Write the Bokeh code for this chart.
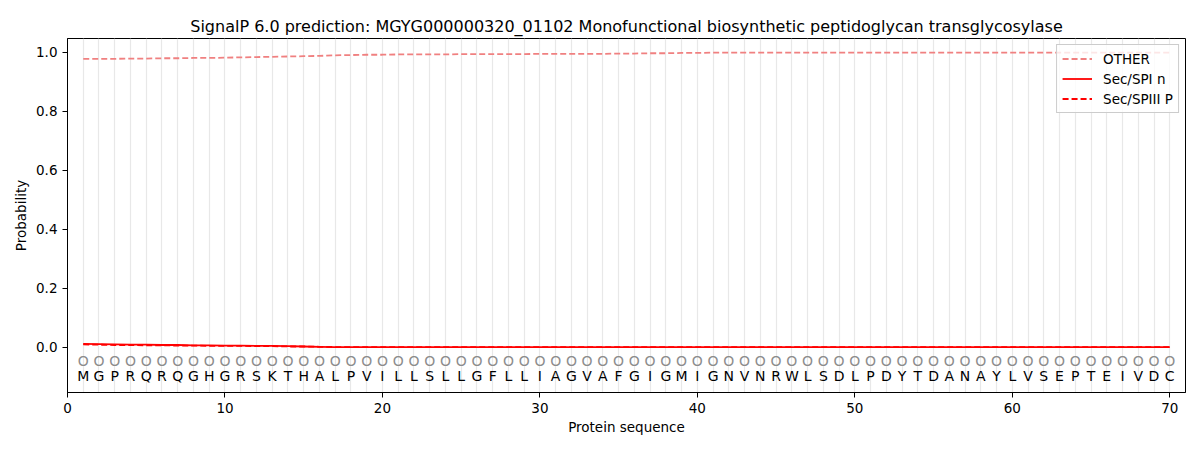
from bokeh.plotting import figure
from bokeh.models import FixedTicker, Legend, LegendItem, Range1d, ColumnDataSource
from bokeh.embed import file_html
from bokeh.resources import INLINE
from bokeh.core.properties import value

sequence = list("MGPRQRQGHGRSKTHALPVILLSLLGFLLIAGVAFGIGMIGNVNRWLSDLPDYTDANAYLVSEPTEIVDC")
positions = list(range(1, len(sequence) + 1))

other = [0.978, 0.978, 0.978, 0.979, 0.979, 0.980, 0.980, 0.981, 0.981, 0.982,
         0.983, 0.984, 0.985, 0.986, 0.987, 0.988, 0.990, 0.991, 0.992, 0.992,
         0.993, 0.993, 0.993, 0.993, 0.994, 0.994, 0.994, 0.994, 0.994, 0.995,
         0.995, 0.995, 0.995, 0.995, 0.996, 0.996, 0.997, 0.997, 0.998, 0.998,
         0.999, 0.999, 0.999, 0.999, 0.999, 0.999, 0.999, 0.999, 0.999, 0.999,
         0.999, 0.999, 0.999, 0.999, 0.999, 0.999, 0.999, 0.999, 0.999, 0.999,
         0.999, 0.999, 0.999, 0.999, 0.999, 0.999, 0.999, 0.999, 0.999, 0.999]
sec_spi_n = [0.012, 0.011, 0.010, 0.009, 0.009, 0.008, 0.008, 0.007, 0.007, 0.006,
             0.006, 0.005, 0.005, 0.004, 0.003, 0.002, 0.001, 0.001, 0.001, 0.001,
             0.001, 0.001, 0.001, 0.001, 0.001, 0.001, 0.001, 0.001, 0.001, 0.001,
             0.001, 0.001, 0.001, 0.001, 0.001, 0.001, 0.001, 0.001, 0.001, 0.001,
             0.001, 0.001, 0.001, 0.001, 0.001, 0.001, 0.001, 0.001, 0.001, 0.001,
             0.001, 0.001, 0.001, 0.001, 0.001, 0.001, 0.001, 0.001, 0.001, 0.001,
             0.001, 0.001, 0.001, 0.001, 0.001, 0.001, 0.001, 0.001, 0.001, 0.001]
sec_spiii_p = [0.010, 0.009, 0.008, 0.008, 0.007, 0.007, 0.006, 0.006, 0.005, 0.005,
               0.005, 0.004, 0.004, 0.003, 0.003, 0.002, 0.001, 0.001, 0.001, 0.001,
               0.001, 0.001, 0.001, 0.001, 0.001, 0.001, 0.001, 0.001, 0.001, 0.001,
               0.001, 0.001, 0.001, 0.001, 0.001, 0.001, 0.001, 0.001, 0.001, 0.001,
               0.001, 0.001, 0.001, 0.001, 0.001, 0.001, 0.001, 0.001, 0.001, 0.001,
               0.001, 0.001, 0.001, 0.001, 0.001, 0.001, 0.001, 0.001, 0.001, 0.001,
               0.001, 0.001, 0.001, 0.001, 0.001, 0.001, 0.001, 0.001, 0.001, 0.001]
x_ticks = [0, 10, 20, 30, 40, 50, 60, 70]
y_ticks = [0.0, 0.2, 0.4, 0.6, 0.8, 1.0]
title = "SignalP 6.0 prediction: MGYG000000320_01102 Monofunctional biosynthetic peptidoglycan transglycosylase"

FONT = "DejaVu Sans"

p = figure(output_backend="svg", toolbar_location=None,
           frame_width=1118, frame_height=354,
           min_border_left=67, min_border_right=7, min_border_top=38, min_border_bottom=50,
           x_range=Range1d(0, 71), y_range=Range1d(-0.153, 1.047),
           title=title)
p.title.text_font = FONT
p.title.text_font_size = "16px"
p.title.text_font_style = "normal"
p.title.text_color = "black"
p.title.align = "center"
p.title.standoff = 6
p.title.offset = 0

p.background_fill_color = "white"
p.outline_line_color = "black"
p.outline_line_width = 1

p.xgrid.ticker = FixedTicker(ticks=positions)
p.xgrid.grid_line_color = "#e8e8e8"
p.xgrid.grid_line_width = 1.2
p.ygrid.grid_line_color = None

for ax in (p.xaxis[0], p.yaxis[0]):
    ax.major_label_text_font = FONT
    ax.major_label_text_font_size = "13.5px"
    ax.axis_label_text_font = FONT
    ax.axis_label_text_font_size = "13.5px"
    ax.axis_label_text_font_style = "normal"
    ax.axis_label_text_color = "black"
    ax.minor_tick_line_color = None
    ax.major_tick_out = 5
    ax.major_tick_in = 0
    ax.major_tick_line_color = "black"
    ax.axis_line_color = "black"
    ax.major_label_text_color = "black"

p.xaxis.ticker = FixedTicker(ticks=x_ticks)
p.yaxis.ticker = FixedTicker(ticks=y_ticks)
p.yaxis.major_label_overrides = {v: f"{v:.1f}" for v in y_ticks}
p.xaxis.axis_label = "Protein sequence"
p.yaxis.axis_label = "Probability"
p.xaxis.axis_label_standoff = 3
p.yaxis.axis_label_standoff = 4

src = ColumnDataSource(dict(x=positions, aa=sequence, oo=["O"] * len(positions),
                            cy=[-0.047] * len(positions), ly=[-0.097] * len(positions)))
p.text("x", "cy", text="oo", source=src, text_font=value(FONT), text_font_size="14px",
       text_align="center", text_baseline="middle", text_color="#8c8c8c")
p.text("x", "ly", text="aa", source=src, text_font=value(FONT), text_font_size="14px",
       text_align="center", text_baseline="middle", text_color="black")

r_other = p.line(positions, other, line_color="#f08080", line_width=1.8, line_dash="6 3")
r_n = p.line(positions, sec_spi_n, line_color="red", line_width=1.8)
r_p = p.line(positions, sec_spiii_p, line_color="red", line_width=1.8, line_dash="6 3")

legend = Legend(items=[LegendItem(label="OTHER", renderers=[r_other]),
                       LegendItem(label="Sec/SPI n", renderers=[r_n]),
                       LegendItem(label="Sec/SPIII P", renderers=[r_p])],
                location="top_right")
legend.label_text_font = FONT
legend.label_text_font_size = "13.5px"
legend.label_text_color = "black"
legend.border_line_color = "#cccccc"
legend.border_line_alpha = 1
legend.background_fill_alpha = 0.8
legend.glyph_width = 30
legend.glyph_height = 17
legend.label_height = 17
legend.spacing = 3
legend.padding = 5
legend.margin = 6
legend.label_standoff = 11
p.add_layout(legend)

open("out.html", "w").write(file_html(p, INLINE))
